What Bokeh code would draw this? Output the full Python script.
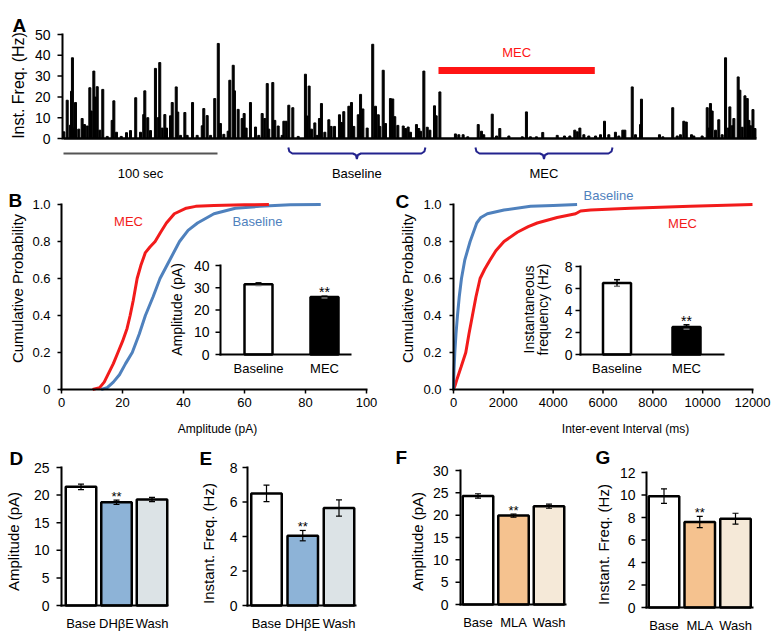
import math
from bokeh.plotting import figure
from bokeh.layouts import row, column
from bokeh.models import Range1d
from bokeh.core.properties import value
from bokeh.embed import file_html
from bokeh.resources import INLINE

FONT = "Liberation Sans"
RED = "#f21b1b"
BLUE = "#4f81bd"
NAVY = "#23238e"

# ---------------- Panel A data (instantaneous frequency trace) ----------------
event_time_s = [
    0.2, 2.4, 4.5, 5.2, 5.8, 6.7, 7.8, 9.9, 12.1, 13.6, 15.4, 17.1, 18.0, 19.7, 20.6, 21.9, 23.6, 25.5, 28.4, 31.6,
    32.7, 34.4, 37.5, 40.9, 43.5, 46.9, 50.0, 52.1, 52.8, 54.7, 56.5, 59.7, 61.5, 62.5, 64.1, 65.8, 66.9, 69.5, 70.6, 73.2,
    74.2, 76.0, 78.8, 80.3, 83.8, 86.8, 90.1, 91.1, 93.3, 95.5, 98.2, 100.5, 101.9, 104.1, 106.9, 108.0, 110.2, 111.0, 113.4,
    116.0, 117.3, 118.6, 121.4, 124.7, 126.8, 129.0, 130.7, 132.3, 133.3, 135.9, 137.2, 139.4, 142.0, 143.1, 144.6, 146.3, 148.9, 152.4, 157.1,
    158.2, 159.5, 161.0, 163.2, 164.7, 166.2, 167.5, 169.7, 172.3, 173.8, 176.0, 179.2, 180.5, 182.0, 185.3, 187.0, 188.5, 191.4, 192.9, 194.4,
    197.2, 200.8, 202.6, 204.4, 205.4, 207.6, 209.1, 212.3, 213.8, 215.1, 217.1, 220.6, 222.1, 223.8, 225.3,
    229.2, 230.7, 231.8, 234.0, 236.2, 237.9, 240.9, 242.0, 244.4, 254.5, 256.7, 259.5, 262.5, 269.3, 271.4, 272.9, 278.4, 281.2, 283.3, 289.2,
    297.9, 300.6, 303.2, 307.1, 311.2, 320.6, 325.3, 328.8, 332.0, 333.6, 335.3, 337.9,
    341.1, 345.5, 348.7, 351.3, 354.1, 358.4, 360.6, 363.2, 364.5, 369.3, 371.4, 374.7, 375.3, 387.0, 389.2, 395.6, 398.5, 400.6, 402.8, 404.4,
    407.8, 409.3, 414.7, 418.0, 419.0, 420.1, 421.2, 423.4, 425.5, 427.7, 429.9, 431.6, 432.7, 434.2, 435.3, 438.1, 439.2, 440.7, 442.5, 444.0,
    445.1, 446.2, 447.7, 449.0,
]
event_freq_hz = [
    3.2, 18.4, 6.4, 22.7, 38.8, 5, 17.3, 4.5, 9.6, 6.7, 6, 24.4, 13.2, 32.4, 19.9, 24.9, 4, 23.6, 1, 8.7,
    18.1, 3, 1, 2.8, 3.8, 19.6, 3, 11.5, 22.9, 10, 3.8, 33.7, 10, 36.5, 5, 11.5, 5, 10.9, 17.3, 24.8,
    12.7, 1.5, 12.5, 1.5, 17.3, 1.5, 6.1, 14.4, 11, 1.5, 19.2, 45.7, 7.2, 2, 3.5, 28, 35.2, 22.9, 14,
    9.6, 12, 5, 17.3, 5.5, 1.5, 12, 9.6, 26.4, 4.5, 26.9, 8.7, 6, 1.5, 8.3, 8.3, 16, 14.8, 1, 30.9,
    10.8, 25.2, 4.5, 7.5, 1.5, 9.6, 16.8, 3, 9, 5.8, 5.8, 11.4, 7.7, 12.9, 15.5, 17.3, 5.8, 11.4, 21.2, 14.2,
    5, 45.3, 15.5, 11.4, 5.8, 32.8, 7.2, 19.2, 19, 10.5, 6.3, 6, 4.8, 5.5, 3,
    6.7, 4.8, 3.5, 32.4, 5.4, 4, 15.7, 10.9, 22.4, 2.2, 1.8, 1.8, 0.8, 6.7, 3.5, 1.8, 11.7, 1.2, 4.8, 1.2,
    0.8, 12.8, 0.8, 0.8, 2.9, 1.5, 1.2, 1.2, 4, 3.2, 5, 1.8,
    1.2, 1.2, 1.8, 8.3, 1.8, 3, 1.2, 4, 4, 24.8, 1.8, 6.7, 18.9, 1.8, 0.8, 14.8, 1.2, 1.8, 8.3, 7.9,
    1.8, 1.2, 1.2, 14.8, 5, 16.8, 13.2, 4, 9, 1.8, 38.8, 5, 15.2, 6.1, 9.6, 29.6, 23.2, 5.4, 20.5, 19.2,
    8.7, 6.1, 13.9, 4.8,
]
a_yticks = [0, 10, 20, 30, 40, 50]
trace_span_s = [0.0, 450.0]
mec_application_s = [243.5, 345.0]
baseline_window_s = [146.0, 235.0]
mec_window_s = [267.5, 356.5]
scalebar_s = [0.0, 100.0]

# ---------------- Panel B data (amplitude cumulative) ----------------
b_mec_amp = [10.2, 12.5, 14, 15.5, 17, 18.5, 20, 21.5, 22.5, 23.5, 24.8, 26, 27.5, 29, 30.7, 32.5, 34.4, 37, 40.9, 44, 50, 60, 68]
b_mec_p = [0, 0.01, 0.04, 0.09, 0.14, 0.2, 0.26, 0.33, 0.4, 0.48, 0.6, 0.67, 0.74, 0.77, 0.8, 0.85, 0.9, 0.95, 0.98, 0.99, 0.995, 0.998, 1.0]
b_base_amp = [13, 15, 17, 19, 21, 23.2, 25.5, 27.5, 30, 32.3, 35.5, 38.7, 41.5, 44.6, 50, 57, 65, 75, 85]
b_base_p = [0, 0.01, 0.04, 0.08, 0.14, 0.2, 0.3, 0.4, 0.5, 0.6, 0.7, 0.8, 0.86, 0.9, 0.95, 0.98, 0.99, 0.998, 1.0]
b_xticks = [0, 20, 40, 60, 80, 100]
prob_ticks = [0, 0.2, 0.4, 0.6, 0.8, 1.0]
b_prob_labels = ["0", "0.2", "0.4", "0.6", "0.8", "1.0"]
c_prob_labels = ["0.0", "0.2", "0.4", "0.6", "0.8", "1.0"]
inset_cats = ["Baseline", "MEC"]
b_inset_vals = [31.6, 25.8]
b_inset_errs = [0.6, 0.4]
b_inset_ticks = [0, 10, 20, 30, 40]

# ---------------- Panel C data (inter-event interval cumulative) ----------------
c_base_iei = [0, 20, 53, 100, 160, 230, 320, 453, 667, 800, 933, 1100, 1360, 2027, 3093, 4000, 4960]
c_base_p = [0, 0.1, 0.2, 0.3, 0.4, 0.5, 0.6, 0.7, 0.8, 0.85, 0.9, 0.93, 0.95, 0.97, 0.99, 0.995, 1.0]
c_mec_iei = [0, 60, 150, 300, 493, 620, 760, 900, 1067, 1250, 1467, 1700, 2027, 2560, 3000, 3360, 4160, 4900, 5100, 5500, 7100, 9500, 12000]
c_mec_p = [0, 0.02, 0.06, 0.12, 0.2, 0.3, 0.4, 0.5, 0.6, 0.65, 0.7, 0.75, 0.8, 0.85, 0.88, 0.9, 0.93, 0.95, 0.965, 0.97, 0.98, 0.99, 1.0]
c_xticks = [0, 2000, 4000, 6000, 8000, 10000, 12000]
c_inset_vals = [6.5, 2.5]
c_inset_errs = [0.3, 0.2]
c_inset_ticks = [0, 2, 4, 6, 8]

# ---------------- Panels D-G ----------------
dh_cats = ["Base", "DH\u03b2E", "Wash"]
mla_cats = ["Base", "MLA", "Wash"]
d_vals = [21.5, 18.7, 19.2]
d_errs = [0.5, 0.4, 0.4]
d_ticks = [0, 5, 10, 15, 20, 25]
e_vals = [6.5, 4.05, 5.65]
e_errs = [0.48, 0.3, 0.47]
e_ticks = [0, 2, 4, 6, 8]
f_vals = [24.3, 19.9, 22.0]
f_errs = [0.5, 0.35, 0.45]
f_ticks = [0, 5, 10, 15, 20, 25, 30]
g_vals = [9.9, 7.6, 7.9]
g_errs = [0.65, 0.5, 0.48]
g_ticks = [0, 2, 4, 6, 8, 10, 12]
dh_colors = ["#ffffff", "#8db3d7", "#dce3e6"]
mla_colors = ["#ffffff", "#f5c28f", "#f5e9d8"]


class Cal:
    """Pixel calibration of one canvas: maps page pixels to data values."""

    def __init__(self, left, top, width, height, xa, va, xb, vb, ya, wa, yb, wb):
        self.left, self.top, self.width, self.height = left, top, width, height
        self.xa, self.va, self.xb, self.vb = xa, va, xb, vb
        self.ya, self.wa, self.yb, self.wb = ya, wa, yb, wb

    def x(self, px):
        return self.va + (px - self.xa) * (self.vb - self.va) / (self.xb - self.xa)

    def y(self, py):
        return self.wa + (py - self.ya) * (self.wb - self.wa) / (self.yb - self.ya)

    def xunits(self, npx):
        return npx * (self.vb - self.va) / (self.xb - self.xa)

    def xrange(self):
        return Range1d(self.x(self.left), self.x(self.left + self.width))

    def yrange(self):
        return Range1d(self.y(self.top + self.height), self.y(self.top))


def make_fig(cal):
    p = figure(width=cal.width, height=cal.height, x_range=cal.xrange(), y_range=cal.yrange(),
               output_backend="svg", toolbar_location=None, title=None,
               x_axis_location=None, y_axis_location=None,
               min_border=0, min_border_left=0, min_border_right=0, min_border_top=0, min_border_bottom=0)
    p.xgrid.grid_line_color = None
    p.ygrid.grid_line_color = None
    p.outline_line_color = None
    p.background_fill_color = "white"
    p.border_fill_color = "white"
    return p


def label(p, cal, px, py, s, size, color="black", align="center", baseline="middle", angle=0.0, bold=False):
    p.text(x=[cal.x(px)], y=[cal.y(py)], text=[s], text_font=value(FONT), text_font_size=value(size),
           text_color=color, text_align=align, text_baseline=baseline, angle=angle,
           text_font_style="bold" if bold else "normal")


def letter(p, cal, px, py_base, s):
    label(p, cal, px, py_base, s, "19px", align="left", baseline="alphabetic", bold=True)


def yaxis(p, cal, ax_px, ticks, labels, size, lab_right_px, tick_len=5, rn=None):
    rn = rn or {}
    x = cal.x(ax_px)
    n = len(ticks)
    p.segment(x0=[x], y0=[ticks[0]], x1=[x], y1=[ticks[-1]], line_width=2, color="black", line_cap="square", **rn)
    p.ray(x=[x] * n, y=ticks, length=tick_len, length_units="screen", angle=math.pi, line_width=1.5,
          color="black", **rn)
    p.text(x=[x] * n, y=ticks, text=labels, x_offset=-(ax_px - lab_right_px), text_align="right",
           text_baseline="middle", text_font=value(FONT), text_font_size=value(size), **rn)


def xaxis_line(p, cal, x0_px, x1_px, rn=None):
    rn = rn or {}
    p.segment(x0=[cal.x(x0_px)], y0=[0], x1=[cal.x(x1_px)], y1=[0], line_width=2, color="black",
              line_cap="square", **rn)


def xaxis_ticks(p, ticks, labels, size, lab_dy, tick_len=4):
    n = len(ticks)
    p.segment(x0=[ticks[0]], y0=[0], x1=[ticks[-1]], y1=[0], line_width=2, color="black", line_cap="square")
    p.ray(x=ticks, y=[0] * n, length=tick_len, length_units="screen", angle=-math.pi / 2, line_width=1.5,
          color="black")
    p.text(x=ticks, y=[0] * n, text=labels, y_offset=lab_dy, text_align="center", text_baseline="middle",
           text_font=value(FONT), text_font_size=value(size))


# ================= Panel A =================
calA = Cal(0, 0, 776, 182, 63, 0, 217, 100, 138, 0, 34, 50)
pA = make_fig(calA)
pA.vbar(x=event_time_s, top=event_freq_hz, bottom=0, width=1.3, color="black")
pA.segment(x0=[trace_span_s[0]], y0=[0], x1=[trace_span_s[1]], y1=[0], line_width=2.5, color="black")
yaxis(pA, calA, 62, a_yticks, [str(t) for t in a_yticks], "14px", 50)
label(pA, calA, 18, 85, "Inst. Freq. (Hz)", "16px", angle=math.pi / 2)
yr = calA.y(70)
pA.segment(x0=[mec_application_s[0]], y0=[yr], x1=[mec_application_s[1]], y1=[yr], line_width=7,
           color="#ff1414", line_cap="butt")
pA.text(x=[sum(mec_application_s) / 2], y=[calA.y(52)], text=["MEC"], text_font=value(FONT),
        text_font_size=value("13px"), text_color="#ff1414", text_align="center", text_baseline="middle")
ys = calA.y(153)
pA.segment(x0=[scalebar_s[0]], y0=[ys], x1=[scalebar_s[1]], y1=[ys], line_width=2, color="#555555")
pA.text(x=[sum(scalebar_s) / 2], y=[calA.y(173)], text=["100 sec"], text_font=value(FONT),
        text_font_size=value("13px"), text_align="center", text_baseline="middle")


def brace(p, cal, x0, x1, s):
    c = (x0 + x1) / 2
    yT, yM, yB = cal.y(147), cal.y(153), cal.y(158.5)
    u = cal.xunits(1)
    d = cal.y(152) - yM
    xs = [x0, x0 + 1 * u, x0 + 4 * u, c - 4 * u, c - 1 * u, c, c + 1 * u, c + 4 * u, x1 - 4 * u, x1 - 1 * u, x1]
    ys_ = [yT, yM + 2 * d, yM, yM, yM - 1.5 * d, yB, yM - 1.5 * d, yM, yM, yM + 2 * d, yT]
    p.line(xs, ys_, line_width=2, color=NAVY)
    p.text(x=[c], y=[cal.y(173)], text=[s], text_font=value(FONT), text_font_size=value("13px"),
           text_align="center", text_baseline="middle")


brace(pA, calA, baseline_window_s[0], baseline_window_s[1], "Baseline")
brace(pA, calA, mec_window_s[0], mec_window_s[1], "MEC")
letter(pA, calA, 12, 25, "A")


# ================= inset helper =================
def inset(p, cal, ical, ax_px, ax_right_px, vals, errs, ticks, lab_right_px, star_dy=-4):
    p.extra_x_ranges = {"ix": ical.xrange()}
    p.extra_y_ranges = {"iy": ical.yrange()}
    kw = dict(x_range_name="ix", y_range_name="iy")
    pos = [1, 2]
    p.vbar(x=pos, top=vals, bottom=0, width=ical.xunits(28), fill_color=["white", "black"], line_color="black",
           line_width=2.5, **kw)
    lo = [v - e for v, e in zip(vals, errs)]
    hi = [v + e for v, e in zip(vals, errs)]
    p.segment(x0=pos, y0=lo, x1=pos, y1=hi, color="black", line_width=1.5, **kw)
    p.scatter(x=pos, y=hi, marker="dash", size=6, line_color="black", line_width=1.5, **kw)
    p.scatter(x=pos, y=lo, marker="dash", size=6, line_color="#777777", line_width=1.5, **kw)
    yaxis(p, ical, ax_px, ticks, [str(t) for t in ticks], "14px", lab_right_px, tick_len=5, rn=kw)
    xaxis_line(p, ical, ax_px, ax_right_px, rn=kw)
    p.text(x=pos, y=[0, 0], text=inset_cats, text_font=value(FONT), text_font_size=value("13px"),
           text_align="center", text_baseline="middle", y_offset=14, **kw)
    p.text(x=[2], y=[hi[1]], text=["**"], text_font=value(FONT), text_font_size=value("14px"),
           text_align="center", text_baseline="alphabetic", y_offset=star_dy, **kw)


# ================= Panel B =================
calB = Cal(0, 182, 390, 256, 61, 0, 366, 100, 389, 0, 204, 1)
calBi = Cal(0, 182, 390, 256, 258, 1, 324, 2, 354, 0, 265, 40)
pB = make_fig(calB)
pB.line(b_base_amp, b_base_p, line_width=3, color=BLUE)
pB.line(b_mec_amp, b_mec_p, line_width=3, color=RED)
xaxis_ticks(pB, b_xticks, [str(t) for t in b_xticks], "13px", 13)
yaxis(pB, calB, 61, prob_ticks, b_prob_labels, "13px", 50, tick_len=4)
label(pB, calB, 17, 288, "Cumulative Probability", "15px", angle=math.pi / 2)
label(pB, calB, 217, 428, "Amplitude (pA)", "12px")
label(pB, calB, 128, 221, "MEC", "13px", color=RED)
label(pB, calB, 257, 221, "Baseline", "13px", color=BLUE)
inset(pB, calB, calBi, 220, 350, b_inset_vals, b_inset_errs, b_inset_ticks, 209)
label(pB, calB, 176, 309, "Amplitude (pA)", "14px", angle=math.pi / 2)
letter(pB, calB, 8, 200, "B")

# ================= Panel C =================
calC = Cal(390, 182, 386, 256, 453, 0, 752, 12000, 389, 0, 204, 1)
calCi = Cal(390, 182, 386, 256, 616.5, 1, 686, 2, 354, 0, 266, 8)
pC = make_fig(calC)
pC.line(c_mec_iei, c_mec_p, line_width=3, color=RED)
pC.line(c_base_iei, c_base_p, line_width=3, color=BLUE)
xaxis_ticks(pC, c_xticks, [str(t) for t in c_xticks], "13px", 13)
yaxis(pC, calC, 453, prob_ticks, c_prob_labels, "13px", 441, tick_len=4)
label(pC, calC, 407, 288, "Cumulative Probability", "15px", angle=math.pi / 2)
label(pC, calC, 625, 428, "Inter-event Interval (ms)", "12px")
label(pC, calC, 608, 195, "Baseline", "13px", color=BLUE)
label(pC, calC, 682, 223, "MEC", "13px", color=RED)
inset(pC, calC, calCi, 580, 723, c_inset_vals, c_inset_errs, c_inset_ticks, 572)
label(pC, calC, 528, 309, "Instantaneous", "14px", angle=math.pi / 2)
label(pC, calC, 542, 309, "frequency (Hz)", "14px", angle=math.pi / 2)
letter(pC, calC, 395, 201, "C")


# ================= Panels D-G =================
def bar_panel(cal, cats, vals, errs, colors, ticks, ax_px, ax_right_px, lab_right_px, ylabel, ylab_xy, let_xy, let):
    p = make_fig(cal)
    pos = list(range(len(cats)))
    p.vbar(x=pos, top=vals, bottom=0, width=cal.xunits(30.5), fill_color=colors, line_color="black",
           line_width=2.5)
    lo = [v - e for v, e in zip(vals, errs)]
    hi = [v + e for v, e in zip(vals, errs)]
    p.segment(x0=pos, y0=lo, x1=pos, y1=hi, color="black", line_width=1.2)
    p.scatter(x=pos, y=hi, marker="dash", size=6, line_color="black", line_width=1.2)
    p.scatter(x=pos, y=lo, marker="dash", size=6, line_color="black", line_width=1.2)
    yaxis(p, cal, ax_px, ticks, [str(t) for t in ticks], "14px", lab_right_px, tick_len=5)
    xaxis_line(p, cal, ax_px, ax_right_px)
    p.text(x=pos, y=[0] * len(pos), text=cats, text_font=value(FONT), text_font_size=value("13px"),
           text_align="center", text_baseline="middle", y_offset=18)
    p.text(x=[pos[1]], y=[hi[1]], text=["**"], text_font=value(FONT), text_font_size=value("13px"),
           text_align="center", text_baseline="alphabetic", y_offset=-4)
    label(p, cal, ylab_xy[0], ylab_xy[1], ylabel, "15px", angle=math.pi / 2)
    letter(p, cal, let_xy[0], let_xy[1], let)
    return p


calD = Cal(0, 438, 195, 203, 80.5, 0, 151.5, 2, 605, 0, 467, 25)
calE = Cal(195, 438, 195, 203, 266, 0, 338.5, 2, 605, 0, 467, 8)
calF = Cal(390, 438, 195, 203, 477.5, 0, 548.5, 2, 604, 0, 470, 30)
calG = Cal(585, 438, 191, 203, 663.5, 0, 735, 2, 607, 0, 472, 12)

pD = bar_panel(calD, dh_cats, d_vals, d_errs, dh_colors, d_ticks, 61, 167, 49, "Amplitude (pA)", (13, 541), (9, 458), "D")
pE = bar_panel(calE, dh_cats, e_vals, e_errs, dh_colors, e_ticks, 247, 355, 237, "Instant. Freq. (Hz)", (208, 543), (199, 458), "E")
pF = bar_panel(calF, mla_cats, f_vals, f_errs, mla_colors, f_ticks, 460, 565, 448, "Amplitude (pA)", (417, 541), (395, 457), "F")
pG = bar_panel(calG, mla_cats, g_vals, g_errs, mla_colors, g_ticks, 646, 752, 635, "Instant. Freq. (Hz)", (603, 544), (595, 457), "G")

layout = column(pA, row(pB, pC), row(pD, pE, pF, pG))
open("out.html", "w").write(file_html(layout, INLINE))
